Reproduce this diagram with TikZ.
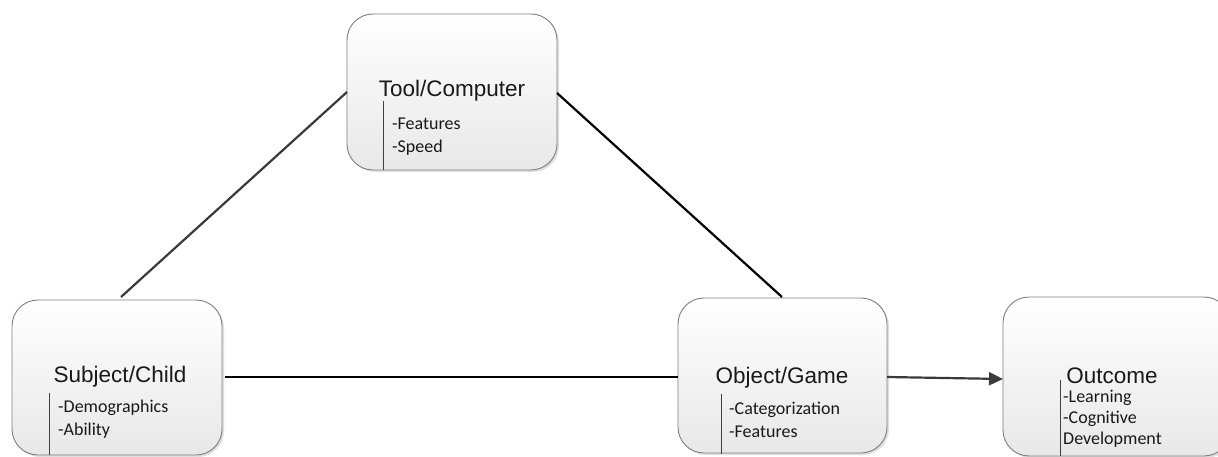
\documentclass[tikz,border=0pt]{standalone}
\usepackage{fontspec}
\setmainfont{Liberation Sans}
\newfontfamily\bodyfont{Carlito}
\usetikzlibrary{arrows.meta,shadows}
\definecolor{edgegray}{HTML}{7F7F7F}
\definecolor{linkdark}{HTML}{3A3A3A}
\tikzset{
  card/.style={draw=edgegray, line width=0.9pt, rounded corners=26pt,
    top color=white, bottom color=black!9,
    drop shadow={shadow xshift=2pt, shadow yshift=-2pt, opacity=0.25}},
  heading/.style={font=\fontsize{22.5}{25}\selectfont, text=black!90, inner sep=0pt},
  items/.style={font=\bodyfont\fontsize{18}{23}\selectfont, align=left, anchor=north west, inner sep=0pt, text=black!90},
  bar/.style={draw=black!75, line width=0.8pt},
  link/.style={line width=2.2pt},
}
\begin{document}
\begin{tikzpicture}[x=1pt,y=-1pt]
\useasboundingbox (0,0) rectangle (1218,457);
% boxes
\draw[card] (347,14) rectangle (557,170);
\draw[card] (12,300) rectangle (222,455);
\draw[card] (678,298) rectangle (887,453);
\draw[card] (1003,297) rectangle (1230,456);

% connector end points on the box edges
\coordinate (toolL) at (347,92);
\coordinate (toolR) at (557,93);
\coordinate (subjT) at (121,297);
\coordinate (subjR) at (225,377);
\coordinate (objT) at (782,297);
\coordinate (objL) at (678,377);
\coordinate (objR) at (887,377);
\coordinate (outL) at (1003,379);

% titles
\node[heading] (t1) at (452,91) {Tool/Computer};
\node[heading] (t2) at (120,377) {Subject/Child};
\node[heading] (t3) at (782,378) {Object/Game};
\node[heading] (t4) at (1112,376) {Outcome};

% item lists
\node[items] (l1) at (392,118) {-Features\\-Speed};
\node[items] (l2) at (58,400) {-Demographics\\-Ability};
\node[items] (l3) at (729,402) {-Categorization\\-Features};
\node[items, font=\bodyfont\fontsize{18}{21}\selectfont] (l4) at (1063,390) {-Learning\\-Cognitive\\Development};

% separator bars
\coordinate (b1a) at (383,101); \coordinate (b1b) at (383,170);
\coordinate (b2a) at (49,393);  \coordinate (b2b) at (49,455);
\coordinate (b3a) at (721,394); \coordinate (b3b) at (721,454);
\coordinate (b4a) at (1060,380); \coordinate (b4b) at (1060,456);
\draw[bar] (b1a) -- (b1b);
\draw[bar] (b2a) -- (b2b);
\draw[bar] (b3a) -- (b3b);
\draw[bar] (b4a) -- (b4b);

% connectors
\draw[link, draw=linkdark] (subjT) -- (toolL);
\draw[link, draw=black] (toolR) -- (objT);
\draw[link, draw=black] (subjR) -- (objL);
\draw[link, draw=linkdark, -{Triangle[length=14pt,width=13pt]}] (objR) -- (outL);
\end{tikzpicture}
\end{document}
